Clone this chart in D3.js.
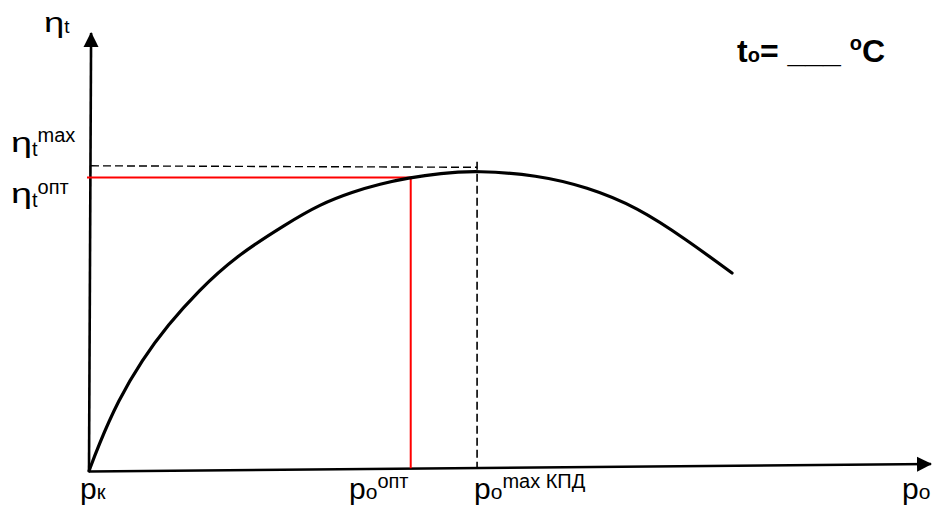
<!DOCTYPE html>
<html>
<head>
<meta charset="utf-8">
<script src="https://cdn.jsdelivr.net/npm/d3@7"></script>
<style>
  body { margin: 0; background: #fff; }
  svg { display: block; font-family: "Liberation Sans", Arial, sans-serif; }
</style>
</head>
<body>
<div id="chart"></div>
<script>
// кривая КПД ηt(pо), условные единицы
const curveP   = [0, 1.07, 3.45, 6.31, 9.40, 12.98, 17.38, 23.57, 27.50, 31.43, 34.64, 37.98, 41.79, 46.19, 53.33, 59.29, 65.24, 71.19, 76.55];
const curveEta = [0, 5.57, 16.12, 25.48, 33.53, 41.24, 49.13, 56.79, 61.19, 64.06, 65.85, 67.20, 68.30, 68.90, 67.89, 65.14, 60.55, 52.98, 45.41];
// оптимум и максимум
const optPoint = [38.3, 67.3];
const maxPoint = [46.2, 70.0];

const width = 932, height = 514;

const x = d3.scaleLinear().domain([0, 100]).range([89, 929]);
const y = d3.scaleLinear().domain([0, 100]).range([471, 35]);
const tilt = 0.016;  // ось абсцисс на рисунке чуть наклонена
const axisY = p => y(p * tilt);

const svg = d3.select("#chart").append("svg")
  .attr("width", width)
  .attr("height", height);

const defs = svg.append("defs");
defs.append("marker")
  .attr("id", "arrow")
  .attr("markerWidth", 16)
  .attr("markerHeight", 16)
  .attr("refX", 14)
  .attr("refY", 8)
  .attr("orient", "auto")
  .attr("markerUnits", "userSpaceOnUse")
  .append("path")
  .attr("d", "M0,0.5 L15,8 L0,15.5Z")
  .attr("fill", "#000");

// оси
svg.append("line")
  .attr("x1", x(0)).attr("y1", y(0))
  .attr("x2", x(0.25)).attr("y2", 33)
  .attr("stroke", "#000").attr("stroke-width", 2.6)
  .attr("marker-end", "url(#arrow)");

svg.append("line")
  .attr("x1", x(0)).attr("y1", axisY(0) + 0.5)
  .attr("x2", 931).attr("y2", axisY(100))
  .attr("stroke", "#000").attr("stroke-width", 2.6)
  .attr("marker-end", "url(#arrow)");

// пунктир: максимум КПД
svg.append("line")
  .attr("x1", x(0) + 2).attr("y1", y(maxPoint[1]))
  .attr("x2", x(maxPoint[0])).attr("y2", y(maxPoint[1]) + 1.5)
  .attr("stroke", "#000").attr("stroke-width", 1.4)
  .attr("stroke-dasharray", "8,4");

svg.append("line")
  .attr("x1", x(maxPoint[0])).attr("y1", y(maxPoint[1]) - 4)
  .attr("x2", x(maxPoint[0])).attr("y2", axisY(maxPoint[0]))
  .attr("stroke", "#000").attr("stroke-width", 1.6)
  .attr("stroke-dasharray", "8,4");

// красные линии: оптимум
svg.append("line")
  .attr("x1", x(0) - 2).attr("y1", y(optPoint[1]))
  .attr("x2", x(optPoint[0]) + 2).attr("y2", y(optPoint[1]))
  .attr("stroke", "#f00").attr("stroke-width", 2);

svg.append("line")
  .attr("x1", x(optPoint[0])).attr("y1", y(optPoint[1]))
  .attr("x2", x(optPoint[0])).attr("y2", axisY(optPoint[0]))
  .attr("stroke", "#f00").attr("stroke-width", 2);

// кривая
const line = d3.line()
  .x(d => x(d[0]))
  .y(d => y(d[1]))
  .curve(d3.curveBasis);

svg.append("path")
  .datum(d3.zip(curveP, curveEta))
  .attr("d", line)
  .attr("fill", "none")
  .attr("stroke", "#000")
  .attr("stroke-width", 3.2)
  .attr("stroke-linecap", "round");

// подписи
function label(px, py, parts, opts = {}) {
  const t = svg.append("text")
    .attr("x", px).attr("y", py)
    .attr("fill", "#000")
    .attr("font-weight", opts.bold ? "bold" : null);
  let shift = 0;
  parts.forEach(p => {
    const dy = (p.dy || 0) - shift;
    shift = p.dy || 0;
    t.append("tspan")
      .attr("dy", dy)
      .attr("dx", p.dx || 0)
      .attr("font-size", p.size)
      .text(p.text);
  });
  return t;
}

// η рисуется шире, как в исходнике
function etaLabel(px, py, size, parts) {
  const eta = svg.append("text")
    .attr("transform", `translate(${px},${py}) scale(1.35,1)`)
    .attr("font-size", size)
    .attr("fill", "#000")
    .text("η");
  const w = eta.node().getComputedTextLength() * 1.35;
  label(px + w, py, parts);
}

etaLabel(44, 32, 27, [{ text: "t", size: 19, dy: 1 }]);
etaLabel(11, 152, 28, [{ text: "t", size: 20, dy: 4 }, { text: "max", size: 20, dy: -10 }]);
etaLabel(11, 203, 28, [{ text: "t", size: 20, dy: 4 }, { text: "опт", size: 20, dy: -9 }]);

label(80, 499, [{ text: "p", size: 30 }, { text: "к", size: 20 }]);
label(349, 499, [{ text: "p", size: 30 }, { text: "о", size: 21 }, { text: "опт", size: 20, dy: -11 }]);
label(474, 499, [{ text: "p", size: 30 }, { text: "о", size: 21 }, { text: "max КПД", size: 20, dy: -11 }]);
label(902, 499, [{ text: "p", size: 30 }, { text: "о", size: 21 }]);

label(737, 62, [
  { text: "t", size: 32 },
  { text: "о", size: 20 },
  { text: "= ___ ", size: 32 },
  { text: "о", size: 20, dy: -12 },
  { text: "C", size: 32 }
], { bold: true });
</script>
</body>
</html>
